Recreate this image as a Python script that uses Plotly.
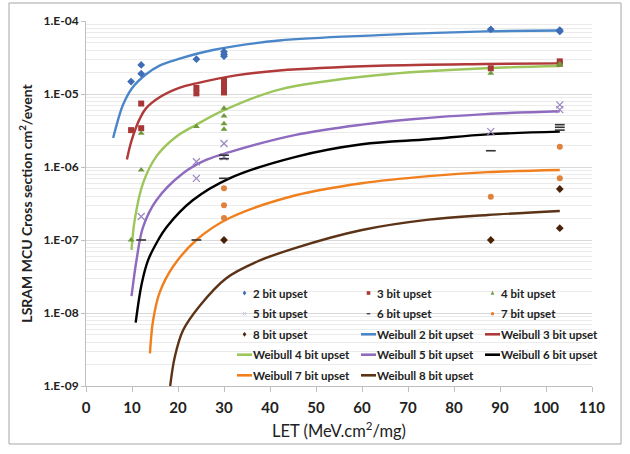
import plotly.graph_objects as go

# ---------------- data ----------------
# measured points: LET (MeV.cm2/mg) and cross section (cm2/event)
b2_x = [9.8, 12, 12, 24, 30, 30, 30, 88, 103, 103]
b2_y = [1.48e-5, 1.9e-5, 2.5e-5, 3.0e-5, 3.3e-5, 3.5e-5, 3.8e-5, 7.7e-5, 7.5e-5, 7.2e-5]

b3_x = [9.8, 12, 12, 24, 24, 30, 30, 30, 30, 88, 103, 103]
b3_y = [3.2e-6, 3.4e-6, 7.4e-6, 1.02e-5, 1.21e-5, 1.05e-5, 1.15e-5, 1.35e-5, 1.55e-5, 2.25e-5, 2.6e-5, 2.8e-5]

b4_x = [9.8, 12, 12, 24, 30, 30, 30, 30, 88, 103, 103]
b4_y = [1.0e-7, 9.1e-7, 2.9e-6, 3.6e-6, 3.3e-6, 3.9e-6, 5.0e-6, 6.4e-6, 1.92e-5, 2.5e-5, 2.6e-5]

b5_x = [12, 24, 24, 30, 30, 88, 103, 103]
b5_y = [2.1e-7, 7.0e-7, 1.18e-6, 1.38e-6, 2.1e-6, 3.05e-6, 6.1e-6, 7.1e-6]

b6_x = [12, 24, 30, 30, 30, 88, 103, 103, 103]
b6_y = [1.0e-7, 1.0e-7, 7.0e-7, 1.3e-6, 1.45e-6, 1.67e-6, 3.2e-6, 3.5e-6, 3.8e-6]

b7_x = [30, 30, 30, 88, 103, 103]
b7_y = [2.0e-7, 3.0e-7, 5.1e-7, 3.9e-7, 7.0e-7, 1.9e-6]

b8_x = [30, 88, 103, 103]
b8_y = [1.0e-7, 1.0e-7, 1.45e-7, 5.0e-7]

# Weibull fit curves
w2_x = [5.9, 7, 8, 10, 13, 16, 20, 27.6, 42, 63.7, 86.8, 103]
w2_y = [2.5e-6, 4.5e-6, 7.0e-6, 1.2e-5, 1.85e-5, 2.45e-5, 3.0e-5, 4.0e-5, 5.4e-5, 6.4e-5, 7.2e-5, 7.4e-5]

w3_x = [8.9, 9.9, 11.7, 13, 16, 20.4, 24, 32.6, 42, 63.7, 86.8, 103]
w3_y = [1.27e-6, 2.3e-6, 4.6e-6, 6.3e-6, 9.0e-6, 1.22e-5, 1.4e-5, 1.8e-5, 2.1e-5, 2.44e-5, 2.58e-5, 2.63e-5]

w4_x = [9.9, 10.6, 12.4, 15.3, 19.6, 24, 30, 42, 63.7, 86.8, 103]
w4_y = [7.3e-8, 1.9e-7, 6.0e-7, 1.4e-6, 2.6e-6, 3.8e-6, 6.0e-6, 1.15e-5, 1.82e-5, 2.25e-5, 2.42e-5]

w5_x = [9.9, 11, 12.4, 15.3, 21.1, 26.1, 31.2, 45.6, 60, 70.8, 86.8, 103]
w5_y = [1.7e-8, 5.4e-8, 1.5e-7, 3.5e-7, 8.2e-7, 1.25e-6, 1.6e-6, 2.75e-6, 3.8e-6, 4.5e-6, 5.3e-6, 5.8e-6]

w6_x = [10.8, 12.1, 13.5, 15.7, 17.5, 23.2, 31.2, 45.6, 60, 74.5, 87.3, 103]
w6_y = [7.4e-9, 2.5e-8, 5.3e-8, 1.0e-7, 1.5e-7, 3.5e-7, 7.0e-7, 1.38e-6, 2.05e-6, 2.4e-6, 2.8e-6, 3.05e-6]

w7_x = [13.9, 14.6, 16, 18.9, 24, 31.2, 45.6, 60, 74.5, 87.3, 103]
w7_y = [2.8e-9, 8.0e-9, 1.9e-8, 4.3e-8, 1.0e-7, 2.0e-7, 4.1e-7, 6.0e-7, 7.5e-7, 8.5e-7, 9.1e-7]

w8_x = [18.3, 19.3, 21.1, 24.7, 30.5, 37, 45.6, 60, 74.5, 87.3, 103]
w8_y = [1.0e-9, 2.5e-9, 5.8e-9, 1.25e-8, 3.0e-8, 5.0e-8, 7.8e-8, 1.37e-7, 1.9e-7, 2.2e-7, 2.5e-7]

y_tickvals = [1e-9, 1e-8, 1e-7, 1e-6, 1e-5, 1e-4]
y_ticktext = ["1.E-09", "1.E-08", "1.E-07", "1.E-06", "1.E-05", "1.E-04"]
x_tickvals = list(range(0, 111, 10))

# legend labels in the reference's 3-column order
legend_rows = [
    ["2 bit upset", "3 bit upset", "4 bit upset"],
    ["5 bit upset", "6 bit upset", "7 bit upset"],
    ["8 bit upset", "Weibull 2 bit upset", "Weibull 3 bit upset"],
    ["Weibull 4 bit upset", "Weibull 5 bit upset", "Weibull 6 bit upset"],
    ["Weibull 7 bit upset", "Weibull 8 bit upset"],
]

# ---------------- figure ----------------
FONT = "Lato"
TXT = "#222222"
W, H = 630, 454
L, R, T, B = 86, 38, 21, 68
pw, ph = W - L - R, H - T - B


def px_x(p):
    return (p - L) / pw


def px_y(p):
    return (H - B - p) / ph


fig = go.Figure()
style = {}


def pts(name, x, y, color, symbol, size=6, line=None):
    m = dict(symbol=symbol, size=size, color=color)
    if line:
        m["line"] = line
    fig.add_trace(go.Scatter(x=x, y=y, mode="markers", name=name, marker=m))
    style[name] = ("marker", symbol, color)


def curve(name, x, y, color):
    fig.add_trace(go.Scatter(x=x, y=y, mode="lines", name=name,
                             line=dict(color=color, width=2.4, shape="spline", smoothing=1.0)))
    style[name] = ("line", None, color)


curve("Weibull 2 bit upset", w2_x, w2_y, "#4A86C8")
curve("Weibull 3 bit upset", w3_x, w3_y, "#B0393A")
curve("Weibull 4 bit upset", w4_x, w4_y, "#9CC65B")
curve("Weibull 5 bit upset", w5_x, w5_y, "#8E6BBE")
curve("Weibull 6 bit upset", w6_x, w6_y, "#000000")
curve("Weibull 7 bit upset", w7_x, w7_y, "#F07F1E")
curve("Weibull 8 bit upset", w8_x, w8_y, "#5C3317")

pts("2 bit upset", b2_x, b2_y, "#3E6DB5", "diamond")
pts("3 bit upset", b3_x, b3_y, "#A83838", "square")
pts("4 bit upset", b4_x, b4_y, "#6E9A3A", "triangle-up")
pts("5 bit upset", b5_x, b5_y, "#9985C0", "x-thin", size=7,
    line=dict(width=1.2, color="#9985C0"))
pts("6 bit upset", b6_x, b6_y, "#333333", "line-ew", size=7,
    line=dict(width=1.6, color="#333333"))
pts("7 bit upset", b7_x, b7_y, "#E0823D", "circle")
pts("8 bit upset", b8_x, b8_y, "#4A2208", "diamond")

# ---------------- legend (3 columns, drawn like the reference) ----------------
col_text_x = [252, 376, 500]
row_y = [293, 313.7, 334.3, 354.7, 375.3]
s = 1.8  # half size of legend symbols (px)


def P(x, y):
    return f"{px_x(x):.5f},{px_y(y):.5f}"


for r, row in enumerate(legend_rows):
    for c, name in enumerate(row):
        tx, ty = col_text_x[c], row_y[r]
        kind, sym, color = style[name]
        if kind == "line":
            fig.add_shape(type="line", xref="paper", yref="paper",
                          x0=px_x(tx - 15), x1=px_x(tx), y0=px_y(ty), y1=px_y(ty),
                          line=dict(color=color, width=2.6))
        else:
            mx = tx - 7.5
            if sym == "diamond":
                path = f"M{P(mx, ty - s - 0.6)} L{P(mx + s, ty)} L{P(mx, ty + s + 0.6)} L{P(mx - s, ty)} Z"
                fig.add_shape(type="path", xref="paper", yref="paper", path=path,
                              fillcolor=color, line=dict(width=0))
            elif sym == "square":
                fig.add_shape(type="rect", xref="paper", yref="paper",
                              x0=px_x(mx - s), x1=px_x(mx + s), y0=px_y(ty + s), y1=px_y(ty - s),
                              fillcolor=color, line=dict(width=0))
            elif sym == "triangle-up":
                path = f"M{P(mx, ty - s - 0.4)} L{P(mx + s, ty + s)} L{P(mx - s, ty + s)} Z"
                fig.add_shape(type="path", xref="paper", yref="paper", path=path,
                              fillcolor=color, line=dict(width=0))
            elif sym == "circle":
                fig.add_shape(type="circle", xref="paper", yref="paper",
                              x0=px_x(mx - s), x1=px_x(mx + s), y0=px_y(ty + s), y1=px_y(ty - s),
                              fillcolor=color, line=dict(width=0))
            elif sym == "x-thin":
                path = (f"M{P(mx - s, ty - s)} L{P(mx + s, ty + s)} "
                        f"M{P(mx - s, ty + s)} L{P(mx + s, ty - s)}")
                fig.add_shape(type="path", xref="paper", yref="paper", path=path,
                              line=dict(color="#C8C0DC", width=1))
            elif sym == "line-ew":
                fig.add_shape(type="line", xref="paper", yref="paper",
                              x0=px_x(mx - s), x1=px_x(mx + s), y0=px_y(ty), y1=px_y(ty),
                              line=dict(color="#444444", width=1.4))
        fig.add_annotation(x=px_x(tx - 1), y=px_y(ty), xref="paper", yref="paper",
                           text=f"<b>{name}</b>", showarrow=False,
                           xanchor="left", yanchor="middle",
                           font=dict(family=FONT, size=11.5, color=TXT))

fig.update_layout(
    width=W, height=H,
    margin=dict(l=L, r=R, t=T, b=B),
    paper_bgcolor="white", plot_bgcolor="white",
    font=dict(family=FONT, color=TXT),
    showlegend=False,
    xaxis=dict(range=[0, 110], tickvals=x_tickvals, showgrid=False, zeroline=False,
               showline=True, linecolor="#BFBFBF", linewidth=1,
               ticks="outside", ticklen=5, tickcolor="#BFBFBF",
               ticklabelstandoff=3,
               tickfont=dict(family=FONT, size=15, color=TXT, weight="bold"),
               title=dict(text="LET (MeV.cm<sup>2</sup>/mg)", standoff=10,
                          font=dict(family=FONT, size=16.5, color=TXT))),
    yaxis=dict(type="log", range=[-9, -4], tickvals=y_tickvals, ticktext=y_ticktext,
               showgrid=True, gridcolor="#D9D9D9", gridwidth=1, zeroline=False,
               showline=True, linecolor="#BFBFBF", linewidth=1,
               ticks="outside", ticklen=4, tickcolor="#BFBFBF",
               minor=dict(dtick="D1", showgrid=True, gridcolor="#EBEBEB", gridwidth=1, ticks=""),
               tickfont=dict(family=FONT, size=12, color=TXT, weight="bold"),
               title=dict(text="<b>LSRAM MCU Cross section cm<sup>2</sup>/event</b>", standoff=7,
                          font=dict(family=FONT, size=14, color=TXT))),
)

# outer chart border
fig.add_shape(type="rect", xref="paper", yref="paper",
              x0=px_x(9), x1=px_x(621), y0=px_y(444), y1=px_y(3),
              line=dict(color="#A6A6A6", width=1), fillcolor="rgba(0,0,0,0)", layer="below")

fig.write_html("out.html")
